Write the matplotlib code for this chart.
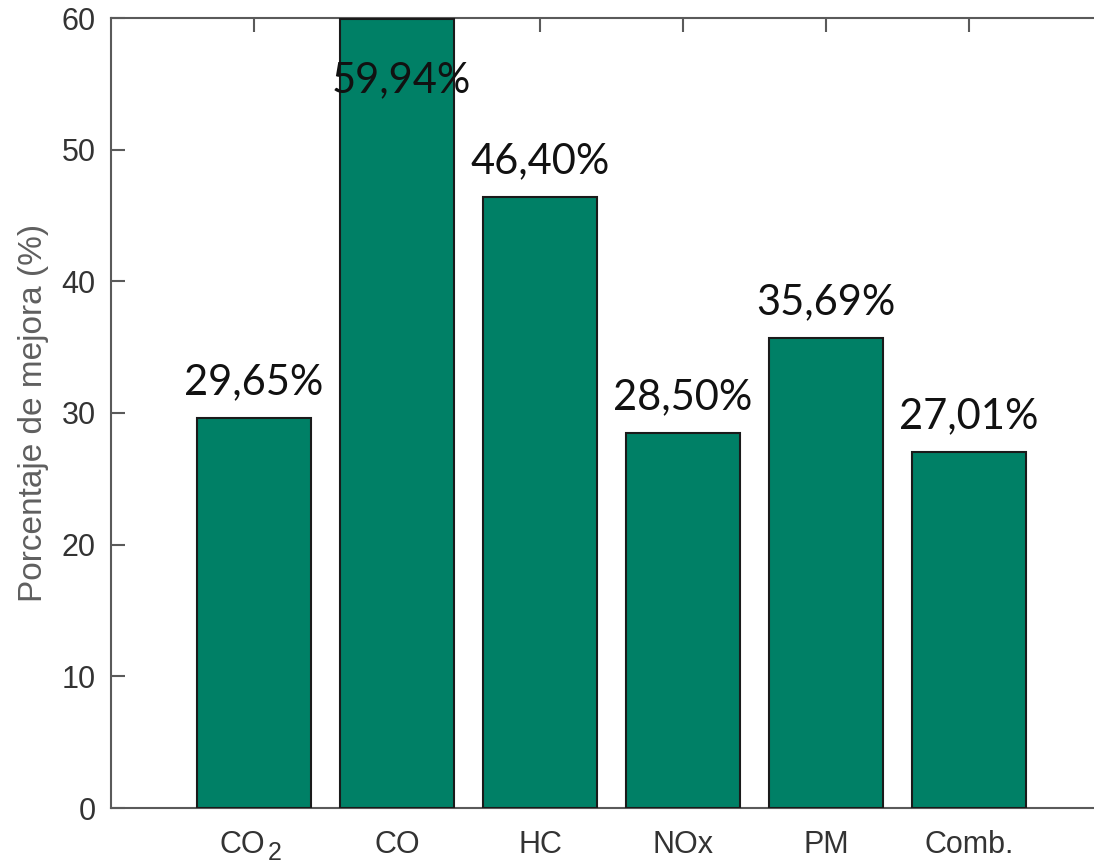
import matplotlib
matplotlib.use("Agg")
import matplotlib.pyplot as plt
from matplotlib.transforms import ScaledTranslation

categories = ["CO", "CO", "HC", "NOx", "PM", "Comb."]
subscripts = ["2", "", "", "", "", ""]
mejora = [29.65, 59.94, 46.40, 28.50, 35.69, 27.01]
labels = ["29,65%", "59,94%", "46,40%", "28,50%", "35,69%", "27,01%"]

plt.rcParams.update({
    "font.family": ["Liberation Sans", "DejaVu Sans"],
})

BAR_COLOR = "#008066"
AXIS_COLOR = "#5a5a5a"
YMAX = 60

fig = plt.figure(figsize=(10.94, 8.66), dpi=100)
ax = fig.add_axes([111 / 1094, 58 / 866, (1094 - 111) / 1094, 790 / 866])

x = list(range(1, len(categories) + 1))
ax.bar(x, mejora, width=0.8, color=BAR_COLOR, edgecolor="#1a1a1a",
       linewidth=1.5, zorder=3)

for xi, v, lab in zip(x, mejora, labels):
    if v + 5 > YMAX:
        # too close to the top: write it inside the bar
        ax.annotate(lab, (xi, v), xytext=(3, -44), textcoords="offset points",
                    ha="center", va="center", fontsize=30, family="Lato",
                    color="#111111", zorder=4)
    else:
        ax.annotate(lab, (xi, v), xytext=(0, 12), textcoords="offset points",
                    ha="center", va="bottom", fontsize=30, family="Lato",
                    color="#111111", zorder=4)

ax.set_xlim(0, (1094 - 111) / 143)
ax.set_ylim(0, YMAX)
ax.set_xticks(x)
ax.set_xticklabels(categories)
ax.set_yticks(range(0, 61, 10))

for side in ("left", "bottom", "top"):
    ax.spines[side].set_color(AXIS_COLOR)
    ax.spines[side].set_linewidth(1.5)
ax.spines["right"].set_visible(False)

ax.tick_params(axis="y", direction="in", length=10, width=1.5,
               color=AXIS_COLOR, labelsize=22, labelcolor="#333333", pad=11)
ax.tick_params(axis="x", direction="in", length=10, width=1.5,
               color=AXIS_COLOR, labelsize=22, labelcolor="#333333", pad=16,
               bottom=False, top=True)

# subscripted labels: shift the base text left and add a large, low subscript
for tl, xi, sub in zip(ax.get_xticklabels(), x, subscripts):
    if not sub:
        continue
    tl.set_transform(tl.get_transform()
                     + ScaledTranslation(-11.5 / 100, 0, fig.dpi_scale_trans))
    ax.annotate(sub, (xi, 0), xycoords=("data", "axes fraction"),
                xytext=(15, -24), textcoords="offset points",
                ha="center", va="top", fontsize=18, color="#333333")

ax.set_ylabel("Porcentaje de mejora (%)", fontsize=24, color="#5f5f5f",
              labelpad=9)

fig.savefig("out.png", dpi=100)
